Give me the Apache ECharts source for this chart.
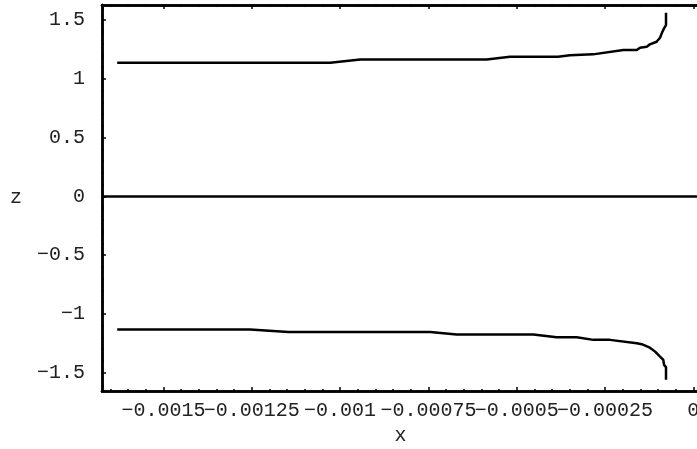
<!DOCTYPE html>
<html>
<head>
<meta charset="utf-8">
<script src="https://cdn.jsdelivr.net/npm/echarts@6/dist/echarts.min.js"></script>
<style>
html,body{margin:0;padding:0;background:#fff;}
#chart{width:697px;height:449px;}
</style>
</head>
<body>
<div id="chart"></div>
<script>
// ---- data ----
var upperX = [-0.001631, -0.001028, -0.000943, -0.000585, -0.000519, -0.000383, -0.000349, -0.000284, -0.000198, -0.000160, -0.000151, -0.000132, -0.000123, -0.000104, -0.0000942, -0.0000894, -0.0000829, -0.0000773, -0.0000773];
var upperZ = [1.137, 1.137, 1.165, 1.165, 1.188, 1.188, 1.200, 1.208, 1.245, 1.245, 1.264, 1.273, 1.293, 1.315, 1.349, 1.387, 1.429, 1.457, 1.562];
var lowerX = [-0.001631, -0.001255, -0.001146, -0.000745, -0.000670, -0.000453, -0.000387, -0.000330, -0.000283, -0.000236, -0.000160, -0.000146, -0.000123, -0.000108, -0.0000942, -0.0000849, -0.0000829, -0.0000773, -0.0000773];
var lowerZ = [-1.132, -1.132, -1.155, -1.155, -1.176, -1.176, -1.198, -1.198, -1.221, -1.221, -1.249, -1.258, -1.287, -1.321, -1.363, -1.391, -1.434, -1.453, -1.561];
var zeroLineZ = [0];

var xTicks = [-0.0015, -0.00125, -0.001, -0.00075, -0.0005, -0.00025, 0];
var xTickLabels = ["\u22120.0015", "\u22120.00125", "\u22120.001", "\u22120.00075", "\u22120.0005", "\u22120.00025", "0"];
var yTicks = [-1.5, -1, -0.5, 0, 0.5, 1, 1.5];
var yTickLabels = ["\u22121.5", "\u22121", "\u22120.5", "0", "0.5", "1", "1.5"];
var xRange = [-0.001674, 0.0000161];
var yRange = [-1.656, 1.628];

// minor tick positions (5 subdivisions of each major step)
function minorTicks(major, lo, hi) {
  var step = (major[1] - major[0]) / 5, out = [];
  var start = Math.ceil(lo / step - 1e-9);
  var end = Math.floor(hi / step + 1e-9);
  for (var i = start; i <= end; i++) {
    if (i % 5 !== 0) out.push(+(i * step).toPrecision(10));
  }
  return out;
}
var xMinor = minorTicks(xTicks, xRange[0], xRange[1]);
var yMinor = minorTicks(yTicks, yRange[0], yRange[1]);
// labels split over two axes so the touching labels are not dropped
var xLabelsEven = xTicks.filter(function (v, i) { return i % 2 === 0; });
var xLabelsOdd = xTicks.filter(function (v, i) { return i % 2 === 1; });

function pairs(xs, ys) { return xs.map(function (x, i) { return [x, ys[i]]; }); }

var FONT = 'Liberation Mono';
var lineCol = '#000';

function xFmt(v) {
  for (var i = 0; i < xTicks.length; i++) if (Math.abs(v - xTicks[i]) < 1e-12) return xTickLabels[i];
  return '';
}
function xAx(pos, ticks, len, labelVals, extra) {
  var a = {
    type: 'value', position: pos, min: xRange[0], max: xRange[1],
    axisLine: { show: true, onZero: false, lineStyle: { color: lineCol, width: 2.5 } },
    axisTick: ticks ? { show: true, inside: true, length: len, customValues: ticks, lineStyle: { color: lineCol, width: 1.5 } } : { show: false },
    axisLabel: labelVals ? {
      show: true, customValues: labelVals, margin: 10, hideOverlap: false,
      showMinLabel: true, showMaxLabel: true,
      fontFamily: FONT, fontSize: 20, color: '#222', formatter: xFmt
    } : { show: false },
    splitLine: { show: false }
  };
  return Object.assign(a, extra || {});
}
function yAx(pos, ticks, len, labels, extra) {
  var a = {
    type: 'value', position: pos, min: yRange[0], max: yRange[1],
    axisLine: { show: true, onZero: false, lineStyle: { color: lineCol, width: 2.5 } },
    axisTick: { show: true, inside: true, length: len, customValues: ticks, lineStyle: { color: lineCol, width: 1.5 } },
    axisLabel: labels ? {
      show: true, customValues: yTicks, margin: 17, hideOverlap: false,
      showMinLabel: true, showMaxLabel: true,
      fontFamily: FONT, fontSize: 20, color: '#222',
      formatter: function (v) {
        for (var i = 0; i < yTicks.length; i++) if (Math.abs(v - yTicks[i]) < 1e-12) return yTickLabels[i];
        return '';
      }
    } : { show: false },
    splitLine: { show: false }
  };
  return Object.assign(a, extra || {});
}

var chart = echarts.init(document.getElementById('chart'), null, { renderer: 'canvas' });
chart.setOption({
  animation: false,
  backgroundColor: '#fff',
  grid: { left: 102, top: 5, width: 597, height: 386, containLabel: false, outerBoundsMode: 'none' },
  xAxis: [
    xAx('bottom', xTicks, 4, xLabelsEven, {
      name: 'x', nameLocation: 'middle', nameGap: 30,
      nameTextStyle: { fontFamily: FONT, fontSize: 20, color: '#222' }
    }),
    xAx('bottom', xMinor, 2, xLabelsOdd),
    xAx('top', xTicks, 4, null),
    xAx('top', xMinor, 2, null)
  ],
  yAxis: [
    yAx('left', yTicks, 4, true, {
      name: 'z', nameLocation: 'middle', nameGap: 80, nameRotate: 0,
      nameTextStyle: { fontFamily: FONT, fontSize: 20, color: '#222' }
    }),
    yAx('left', yMinor, 2, false)
  ],
  series: [
    {
      type: 'line', xAxisIndex: 0, yAxisIndex: 0, data: pairs(upperX, upperZ),
      showSymbol: false, symbol: 'none', lineStyle: { color: '#000', width: 2.5 },
      markLine: {
        silent: true, symbol: ['none', 'none'], label: { show: false },
        lineStyle: { color: '#000', width: 2.5, type: 'solid' },
        data: zeroLineZ.map(function (z) { return { yAxis: z }; })
      }
    },
    {
      type: 'line', xAxisIndex: 0, yAxisIndex: 0, data: pairs(lowerX, lowerZ),
      showSymbol: false, symbol: 'none', lineStyle: { color: '#000', width: 2.5 }
    }
  ]
});
</script>
</body>
</html>
